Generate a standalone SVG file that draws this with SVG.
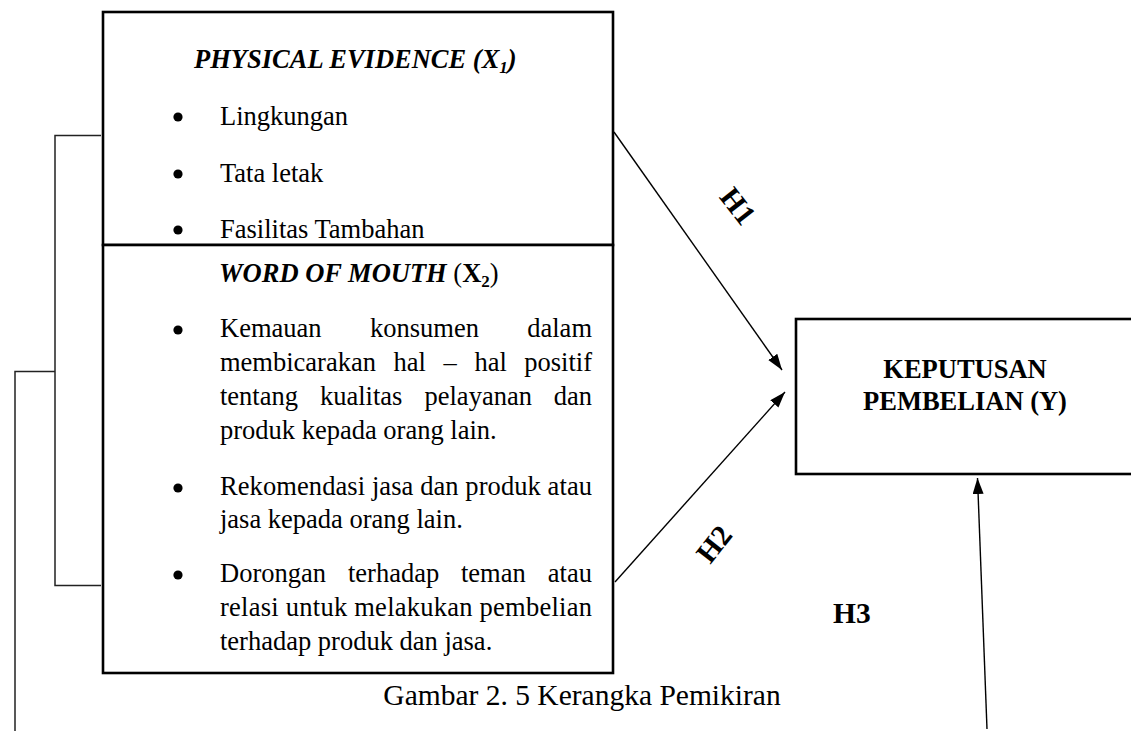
<svg xmlns="http://www.w3.org/2000/svg" width="1131" height="731" viewBox="0 0 1131 731">
  <style>
    text { font-family: "Liberation Serif", "Times New Roman", serif; fill: #000; }
    .body { font-size: 26.5px; }
    .title { font-size: 26.5px; font-weight: bold; font-style: italic; }
    .head { font-size: 26.5px; font-weight: bold; }
    .hlab { font-size: 29.5px; font-weight: bold; }
    .cap { font-size: 29.5px; }
    .box { fill: #fff; stroke: #000; stroke-width: 2.6; }
    .link { fill: none; stroke: #000; stroke-width: 1.4; }
    .bracket { fill: none; stroke: #222; stroke-width: 1.5; }
    .dot { fill: #000; }
  </style>
  <defs>
    <marker id="arrow" markerUnits="userSpaceOnUse" markerWidth="18" markerHeight="12" refX="16" refY="5.5" orient="auto">
      <path d="M0,0 L16,5.5 L0,11 z" fill="#000"/>
    </marker>
  </defs>
  <rect width="1131" height="731" fill="#fff"/>

  <!-- grouping brackets on the left -->
  <g id="brackets">
    <polyline class="bracket" points="101,135.5 55,135.5 55,585.5 101,585.5"/>
    <polyline class="bracket" points="55,371.5 15,371.5 15,731"/>
  </g>

  <!-- connectors -->
  <g id="connectors">
    <line class="link" x1="614" y1="132" x2="782" y2="370" marker-end="url(#arrow)"/>
    <line class="link" x1="615" y1="582" x2="785" y2="392" marker-end="url(#arrow)"/>
    <line class="link" x1="987" y1="729" x2="977.5" y2="478" marker-end="url(#arrow)"/>
    <text class="hlab" text-anchor="middle" transform="translate(738,206) rotate(52)" y="10">H1</text>
    <text class="hlab" text-anchor="middle" transform="translate(714,544) rotate(-52)" y="10">H2</text>
    <text class="hlab" x="833" y="623">H3</text>
  </g>

  <!-- X1 -->
  <g id="physical-evidence">
    <rect class="box" x="103" y="12" width="510" height="233"/>
    <text class="title" x="194" y="68">PHYSICAL EVIDENCE (X<tspan font-size="17" dy="5">1</tspan><tspan dy="-5">)</tspan></text>
    <circle class="dot" cx="178" cy="117" r="4.6"/>
    <text class="body" x="220" y="125">Lingkungan</text>
    <circle class="dot" cx="178" cy="174" r="4.6"/>
    <text class="body" x="220" y="182">Tata letak</text>
    <circle class="dot" cx="178" cy="230" r="4.6"/>
    <text class="body" x="220" y="238">Fasilitas Tambahan</text>
  </g>

  <!-- X2 -->
  <g id="word-of-mouth">
    <rect class="box" x="103" y="245" width="510" height="428"/>
    <text class="head" x="219" y="282"><tspan font-style="italic">WORD OF MOUTH</tspan> <tspan font-weight="normal">(</tspan>X<tspan font-size="17" dy="5">2</tspan><tspan dy="-5" font-weight="normal">)</tspan></text>

    <circle class="dot" cx="178" cy="330" r="4.6"/>
    <text class="body" x="220" y="337">Kemauan</text>
    <text class="body" x="370" y="337">konsumen</text>
    <text class="body" x="592" y="337" text-anchor="end">dalam</text>
    <text class="body" x="220" y="371">membicarakan</text>
    <text class="body" x="393.5" y="371">hal</text>
    <text class="body" x="443.5" y="371">–</text>
    <text class="body" x="474.5" y="371">hal</text>
    <text class="body" x="592" y="371" text-anchor="end">positif</text>
    <text class="body" x="220" y="405">tentang</text>
    <text class="body" x="320" y="405">kualitas</text>
    <text class="body" x="424.5" y="405">pelayanan</text>
    <text class="body" x="592" y="405" text-anchor="end">dan</text>
    <text class="body" x="220" y="439">produk kepada orang lain.</text>

    <circle class="dot" cx="178" cy="488" r="4.6"/>
    <text class="body" x="220" y="495" textLength="372" lengthAdjust="spacing">Rekomendasi jasa dan produk atau</text>
    <text class="body" x="220" y="528">jasa kepada orang lain.</text>

    <circle class="dot" cx="178" cy="575" r="4.6"/>
    <text class="body" x="220" y="582">Dorongan</text>
    <text class="body" x="348" y="582">terhadap</text>
    <text class="body" x="461" y="582">teman</text>
    <text class="body" x="592" y="582" text-anchor="end">atau</text>
    <text class="body" x="220" y="616" textLength="372" lengthAdjust="spacing">relasi untuk melakukan pembelian</text>
    <text class="body" x="220" y="650">terhadap produk dan jasa.</text>
  </g>

  <!-- Y -->
  <g id="keputusan-pembelian">
    <rect class="box" x="796" y="319" width="345" height="155"/>
    <text class="head" x="965" y="378" text-anchor="middle">KEPUTUSAN</text>
    <text class="head" x="965" y="410" text-anchor="middle">PEMBELIAN (Y)</text>
  </g>

  <!-- caption -->
  <text class="cap" x="582" y="705" text-anchor="middle">Gambar 2. 5 Kerangka Pemikiran</text>
</svg>
